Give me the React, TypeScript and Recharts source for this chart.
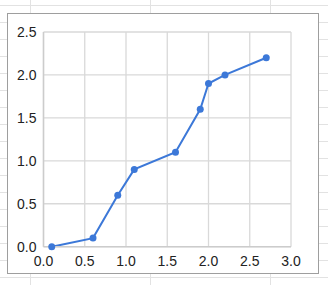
import { CartesianGrid, Line, LineChart, XAxis, YAxis } from "recharts";

const xValues = [0.1, 0.6, 0.9, 1.1, 1.6, 1.9, 2.0, 2.2, 2.7];
const yValues = [0, 0.1, 0.6, 0.9, 1.1, 1.6, 1.9, 2.0, 2.2];
const xTicks = [0, 0.5, 1, 1.5, 2, 2.5, 3];
const yTicks = [0, 0.5, 1, 1.5, 2, 2.5];

const data = xValues.map((x, i) => ({ x, y: yValues[i] }));

const tickStyle = {
  fontFamily: "'Liberation Sans', Arial, sans-serif",
  fontSize: 14,
  fill: "#222222",
};

const App = () => {
  return (
    <div
      style={{
        position: "absolute",
        left: 0,
        top: 0,
        width: 328,
        height: 285,
        background: "#ffffff",
        // spreadsheet cells behind the chart
        backgroundImage:
          "linear-gradient(to right, #e2e2e2 1px, transparent 1px), linear-gradient(to bottom, #e2e2e2 1px, transparent 1px)",
        backgroundSize: "120px 100%, 100% 17px",
        backgroundPosition: "30px 0, 0 5px",
      }}
    >
      <div
        style={{
          position: "absolute",
          left: 7,
          top: 13,
          width: 310,
          height: 259,
          border: "1px solid #9e9e9e",
          background: "#ffffff",
        }}
      />
      <div style={{ position: "absolute", left: 0, top: 0 }}>
        <LineChart
          width={328}
          height={285}
          data={data}
          margin={{ top: 32, right: 37, bottom: 0, left: 0 }}
        >
          <CartesianGrid stroke="#d9d9d9" strokeWidth={1.3} />
          <XAxis
            dataKey="x"
            type="number"
            domain={[0, 3]}
            ticks={xTicks}
            height={38.3}
            tickFormatter={(v: number) => v.toFixed(1)}
            tick={tickStyle}
            tickLine={false}
            tickSize={0}
            tickMargin={9}
            axisLine={{ stroke: "#cccccc", strokeWidth: 1.5 }}
            interval={0}
          />
          <YAxis
            dataKey="y"
            type="number"
            domain={[0, 2.5]}
            ticks={yTicks}
            width={43.5}
            tickFormatter={(v: number) => v.toFixed(1)}
            tick={tickStyle}
            tickLine={false}
            tickSize={0}
            tickMargin={7}
            axisLine={{ stroke: "#cccccc", strokeWidth: 1.5 }}
            interval={0}
          />
          <Line
            type="linear"
            dataKey="y"
            stroke="#3c78d8"
            strokeWidth={2}
            dot={{ r: 3.5, fill: "#3c78d8", stroke: "none" }}
            activeDot={false}
            isAnimationActive={false}
          />
        </LineChart>
      </div>
    </div>
  );
};

export default App;
